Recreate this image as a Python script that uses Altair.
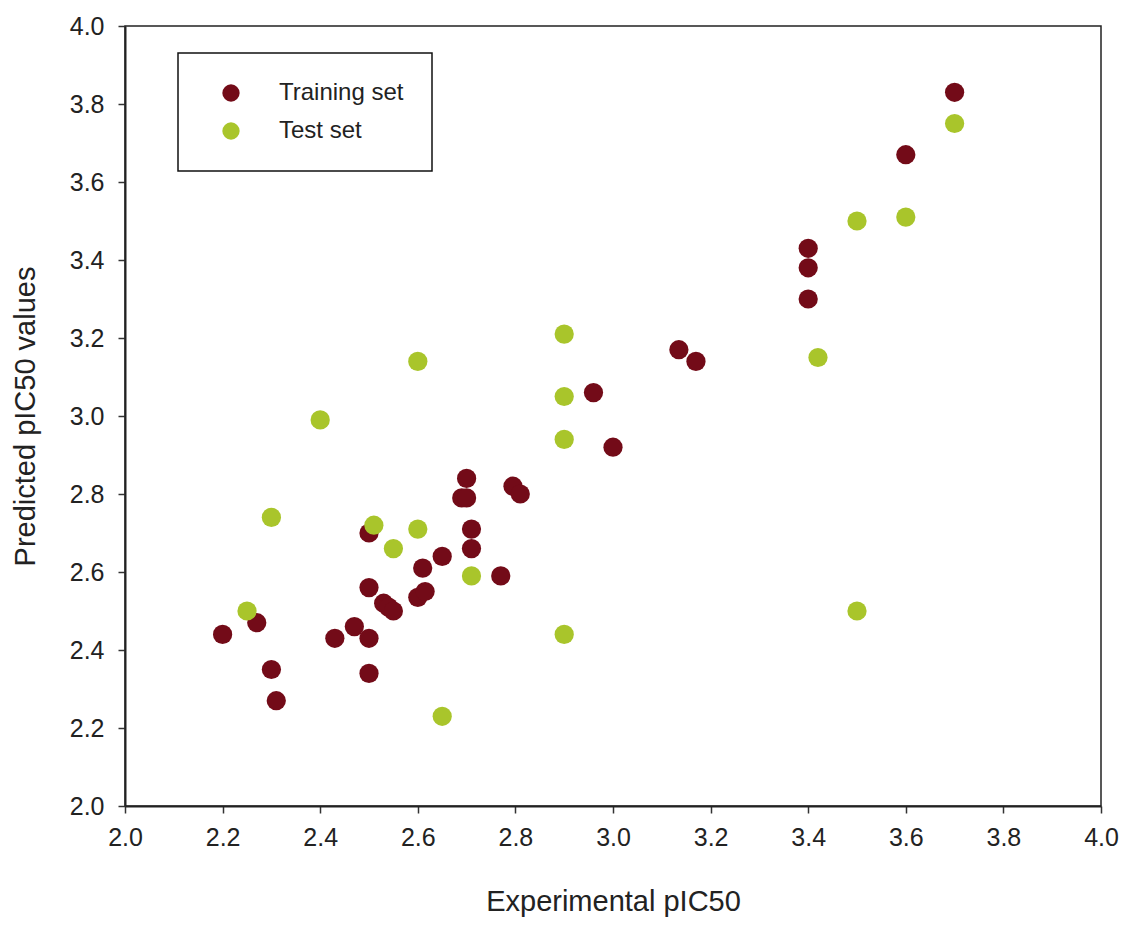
import altair as alt
import pandas as pd

# Training set (dark red)
train_x = [2.20, 2.27, 2.30, 2.31, 2.43, 2.47, 2.50, 2.50, 2.50, 2.50, 2.53, 2.54, 2.55,
           2.60, 2.615, 2.61, 2.65, 2.69, 2.70, 2.70, 2.71, 2.71, 2.77, 2.795, 2.81,
           2.96, 3.00, 3.135, 3.17, 3.40, 3.40, 3.40, 3.60, 3.70]
train_y = [2.44, 2.47, 2.35, 2.27, 2.43, 2.46, 2.70, 2.56, 2.43, 2.34, 2.52, 2.51, 2.50,
           2.535, 2.55, 2.61, 2.64, 2.79, 2.79, 2.84, 2.71, 2.66, 2.59, 2.82, 2.80,
           3.06, 2.92, 3.17, 3.14, 3.43, 3.38, 3.30, 3.67, 3.83]

# Test set (yellow-green)
test_x = [2.25, 2.30, 2.40, 2.51, 2.55, 2.60, 2.60, 2.65, 2.71, 2.90, 2.90, 2.90, 2.90,
          3.42, 3.50, 3.50, 3.60, 3.70]
test_y = [2.50, 2.74, 2.99, 2.72, 2.66, 2.71, 3.14, 2.23, 2.59, 2.44, 2.94, 3.05, 3.21,
          3.15, 3.50, 2.50, 3.51, 3.75]

series = ["Training set", "Test set"]
colors = ["#730B18", "#A9C52B"]
ticks = [2.0, 2.2, 2.4, 2.6, 2.8, 3.0, 3.2, 3.4, 3.6, 3.8, 4.0]

rows = []
for x, y in zip(train_x, train_y):
    rows.append({"exp": x, "pred": y, "set": series[0], "order": 0})
for x, y in zip(test_x, test_y):
    rows.append({"exp": x, "pred": y, "set": series[1], "order": 1})
df = pd.DataFrame(rows)

FONT = "Liberation Sans"

chart = alt.Chart(df).mark_point(filled=True, size=370, opacity=1, strokeWidth=0).encode(
    x=alt.X("exp:Q", title="Experimental pIC50",
            scale=alt.Scale(domain=[2.0, 4.0], nice=False, zero=False),
            axis=alt.Axis(values=ticks, format=".1f", grid=False, tickSize=7,
                          labelFontSize=25, labelPadding=12, titleFontSize=29,
                          titlePadding=37, labelFlush=False)),
    y=alt.Y("pred:Q", title="Predicted pIC50 values",
            scale=alt.Scale(domain=[2.0, 4.0], nice=False, zero=False),
            axis=alt.Axis(values=ticks, format=".1f", grid=False, tickSize=7,
                          labelFontSize=25, labelPadding=14, titleFontSize=29,
                          titlePadding=29, labelFlush=False)),
    color=alt.Color("set:N", scale=alt.Scale(domain=series, range=colors),
                    legend=alt.Legend(title=None, orient="none", legendX=53, legendY=27,
                                      strokeColor="#111", padding=28, symbolOffset=13,
                                      labelOffset=36, rowPadding=14, labelFontSize=24,
                                      symbolSize=300, symbolType="circle",
                                      symbolStrokeWidth=0, labelFont=FONT,
                                      labelColor="#222")),
    order=alt.Order("order:Q"),
).properties(
    width=976, height=780,
    autosize=alt.AutoSizeParams(type="none"),
    padding={"left": 117, "top": 18, "right": 19, "bottom": 122},
).configure_view(
    stroke="#222", strokeWidth=1.5
).configure_axis(
    domainColor="#222", domainWidth=2, tickColor="#333", tickWidth=1.5,
    labelFont=FONT, titleFont=FONT, labelColor="#222", titleColor="#222",
    titleFontWeight="normal"
).configure_legend(
    strokeWidth=1.5
)

chart.save("out.html", embed_options={"renderer": "svg", "actions": False})
